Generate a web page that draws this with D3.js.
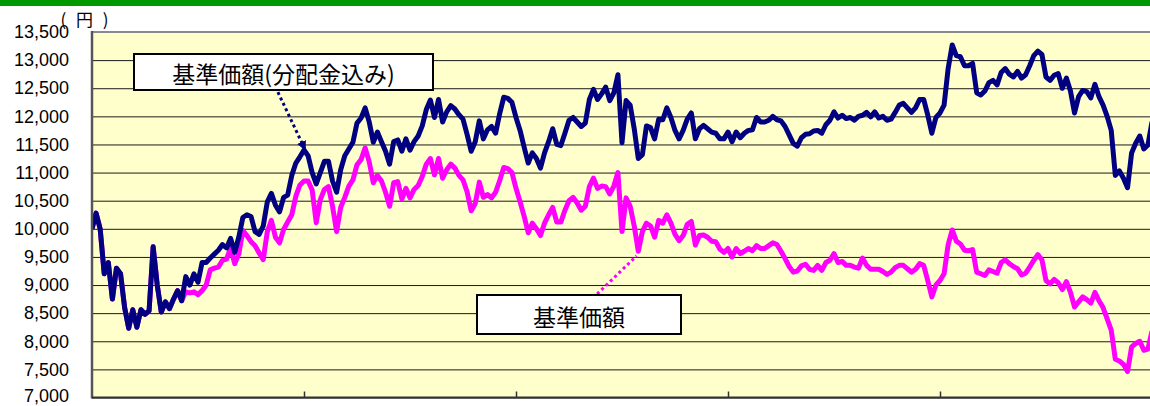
<!DOCTYPE html>
<html>
<head>
<meta charset="utf-8">
<script src="https://cdn.jsdelivr.net/npm/d3@7"></script>
<style>
  body { margin: 0; background: #ffffff; }
  svg { display: block; }
  .yAxis text { font-family: "Liberation Sans", Arial, sans-serif; font-size: 18px; fill: #000; }
  .yAxis .tick line { stroke: #1a1a1a; stroke-width: 1; }
  .yAxis .domain { display: none; }
  .xAxis .domain { display: none; }
  .xAxis .tick line { stroke: #333; stroke-width: 1.5; }
  .labelText { font-family: "Noto Sans CJK JP", "Noto Sans", sans-serif; font-size: 23px; fill: #000; }
</style>
</head>
<body>
<div id="chart"></div>
<script>
// Weekly index along the horizontal axis (5 years x 52 weeks)
var weeks = d3.range(0, 261);

// Year boundaries on the x axis (tick marks only, labels are cut off)
var yearTicks = [52, 104, 156, 208];

// Y axis tick values
var yTicks = d3.range(7000, 13501, 500);

// 基準価額(分配金込み) - price including reinvested distributions
var navWithDist = [
  10000, 10280, 10000, 9200, 9400, 8750, 9300, 9200, 8600, 8230,
  8560, 8250, 8560, 8480, 8540, 9680, 9000, 8520, 8700, 8580,
  8750, 8900, 8720, 9150, 9000, 9200, 9050, 9400, 9400, 9480,
  9550, 9620, 9720, 9660, 9830, 9580, 9850, 10200, 10250, 10220,
  9950, 9900, 10050, 10480, 10630, 10420, 10300, 10560, 10600, 10950,
  11170, 11280, 11400, 11300, 11000, 10800, 11000, 11200, 11200, 10850,
  10650, 11050, 11300, 11420, 11540, 11880, 11970, 12150, 11900, 11540,
  11720, 11550, 11380, 11150, 11550, 11580, 11380, 11600, 11400, 11550,
  11650, 11830, 12120, 12290, 11980, 12300, 11900, 12080, 12190, 12130,
  12030, 11950, 11680, 11380, 11550, 11920, 11600, 11760, 11820, 11700,
  12050, 12340, 12320, 12250, 11980, 11750, 11450, 11170, 11350, 11250,
  11080, 11350, 11550, 11780, 11500, 11480, 11700, 11930, 11980, 11900,
  11820, 11880, 12300, 12480, 12300, 12400, 12520, 12280, 12420, 12740,
  11530, 12280, 12200, 11780, 11250, 11320, 11830, 11800, 11600, 11950,
  11940, 12150, 11980, 11750, 11600, 11750, 11950, 12060, 11600, 11780,
  11840, 11780, 11720, 11700, 11600, 11600, 11720, 11550, 11720, 11620,
  11700, 11750, 11760, 11980, 11900, 11900, 11930, 12000, 11940, 11920,
  11820, 11670, 11520, 11470, 11620, 11680, 11690, 11740, 11750, 11700,
  11850, 11930, 12080, 11970, 12020, 11960, 11980, 11930, 12000, 12020,
  12070, 11990, 12080, 11970, 12000, 11930, 11950, 12070, 12200, 12230,
  12150, 12070, 12150, 12300, 12300, 12020, 11700, 11980, 12060, 12200,
  12850, 13270, 13080, 13060, 12900, 12900, 12940, 12420, 12380, 12450,
  12600, 12640, 12560, 12780, 12850, 12750, 12700, 12800, 12680, 12740,
  12900, 13080, 13160, 13100, 12700, 12640, 12730, 12760, 12500, 12680,
  12450, 12060, 12350, 12460, 12440, 12330, 12570, 12350, 12200, 12000,
  11750, 10950, 11030, 10900, 10730, 11350, 11520, 11650, 11420, 11490,
  11900
];

// 基準価額 - base price
var navBase = [
  10000, 10280, 10000, 9200, 9400, 8750, 9300, 9200, 8600, 8230,
  8560, 8250, 8560, 8480, 8540, 9680, 9000, 8520, 8700, 8580,
  8750, 8900, 8720, 8880, 8860, 8880, 8830, 8900, 9000, 9270,
  9300, 9320, 9440, 9460, 9660, 9380, 9550, 9970, 9880, 9770,
  9700, 9570, 9450, 9950, 10150, 9850, 9750, 9990, 10120, 10250,
  10580, 10780, 10850, 10850, 10690, 10110, 10520, 10700, 10750, 10400,
  9950, 10380, 10560, 10760, 10870, 11140, 11230, 11440, 11190, 10820,
  10950, 10850, 10650, 10400, 10820, 10840, 10530, 10720, 10550, 10700,
  10770, 10930, 11150, 11250, 10960, 11250, 10900, 11050, 11150, 11080,
  10950, 10870, 10660, 10320, 10450, 10830, 10560, 10610, 10550, 10650,
  10860, 11090, 11070, 11000, 10720, 10480, 10220, 9930, 10100, 10000,
  9880, 10100, 10250, 10380, 10120, 10120, 10330, 10500, 10560, 10460,
  10330, 10400, 10750, 10900, 10720, 10760, 10750, 10620, 10760, 11000,
  9950, 10550, 10400, 10050, 9600, 9950, 10100, 10050, 9850, 10150,
  10100, 10250, 10100, 9900, 9790, 9880, 10080, 10130, 9710, 9880,
  9890, 9850, 9780, 9770, 9640, 9580, 9650, 9500, 9650, 9560,
  9600, 9650, 9610, 9700, 9650, 9650, 9700, 9750, 9720, 9600,
  9470, 9330, 9230, 9250, 9340, 9370, 9280, 9260, 9350, 9260,
  9400, 9440, 9560, 9400, 9420, 9350, 9350, 9320, 9300, 9480,
  9350, 9280, 9280, 9280, 9240, 9190, 9230, 9310, 9350, 9350,
  9290, 9230, 9280, 9380, 9350, 9080, 8790, 9000, 9080, 9200,
  9720, 9980, 9780, 9730, 9620, 9610, 9630, 9230, 9200, 9170,
  9270, 9240, 9210, 9400, 9450, 9380, 9330, 9290, 9180, 9210,
  9320, 9440, 9540, 9450, 9080, 9020, 9100, 9040, 8920, 9060,
  8870, 8610, 8700, 8790, 8740, 8680, 8870, 8720, 8600, 8400,
  8200, 7680, 7650, 7590, 7460, 7900, 7960, 8000, 7840, 7860,
  8180
];

// Chart configuration
var width = 1150;
var height = 406;
var plotLeft = 92;
var plotRight = 1152;
var plotTop = 32;
var plotBottom = 397.5;

var svg = d3.select("#chart")
  .append("svg")
  .attr("width", width)
  .attr("height", height);

// green strip along the top
svg.append("rect")
  .attr("x", 0).attr("y", 0)
  .attr("width", width).attr("height", 6)
  .attr("fill", "#009a00");

var x = d3.scaleLinear().domain([0, 260]).range([plotLeft, plotRight]);
var y = d3.scaleLinear().domain([7000, 13500]).range([plotBottom, plotTop]);

// plot background
svg.append("rect")
  .attr("x", plotLeft).attr("y", plotTop)
  .attr("width", plotRight - plotLeft).attr("height", plotBottom - plotTop)
  .attr("fill", "#ffffcc");

// y axis with gridlines
svg.append("g")
  .attr("class", "yAxis")
  .attr("transform", "translate(" + plotLeft + ",0)")
  .call(d3.axisLeft(y)
    .tickValues(yTicks)
    .tickSizeInner(-(plotRight - plotLeft))
    .tickSizeOuter(0)
    .tickPadding(23)
    .tickFormat(d3.format(",")));

// nudge the bottom label so it stays inside the picture
svg.selectAll(".yAxis .tick text")
  .filter(function(d) { return d === 7000; })
  .attr("dy", "0.2em");

// yen unit label
svg.append("text")
  .attr("x", 86).attr("y", 18)
  .attr("text-anchor", "middle")
  .attr("dominant-baseline", "central")
  .attr("font-family", "Noto Sans CJK JP, sans-serif")
  .attr("font-size", "17px")
  .attr("letter-spacing", "3px")
  .text("( 円 )");

// clip the lines to the plot area
svg.append("clipPath").attr("id", "plotClip")
  .append("rect")
  .attr("x", plotLeft).attr("y", plotTop)
  .attr("width", plotRight - plotLeft).attr("height", plotBottom - plotTop);

var line = function(values) {
  return d3.line()
    .x(function(d) { return x(d); })
    .y(function(d) { return y(values[d]); })(weeks);
};

var lines = svg.append("g").attr("clip-path", "url(#plotClip)");

lines.append("path")
  .attr("d", line(navBase))
  .attr("fill", "none")
  .attr("stroke", "#ff00ff")
  .attr("stroke-width", 5)
  .attr("stroke-linejoin", "round");

lines.append("path")
  .attr("d", line(navWithDist))
  .attr("fill", "none")
  .attr("stroke", "#000080")
  .attr("stroke-width", 5)
  .attr("stroke-linejoin", "round");

// plot frame
svg.append("line")
  .attr("x1", plotLeft).attr("x2", plotRight)
  .attr("y1", plotTop).attr("y2", plotTop)
  .attr("stroke", "#8a8a8a").attr("stroke-width", 2);
svg.append("line")
  .attr("x1", plotLeft).attr("x2", plotLeft)
  .attr("y1", plotTop - 1).attr("y2", plotBottom + 1)
  .attr("stroke", "#555").attr("stroke-width", 2.5);
svg.append("line")
  .attr("x1", plotLeft).attr("x2", plotRight)
  .attr("y1", plotBottom).attr("y2", plotBottom)
  .attr("stroke", "#333").attr("stroke-width", 2);

// x axis: small tick marks pointing into the plot
svg.append("g")
  .attr("class", "xAxis")
  .attr("transform", "translate(0," + plotBottom + ")")
  .call(d3.axisBottom(x)
    .tickValues(yearTicks)
    .tickSizeInner(-6)
    .tickSizeOuter(0)
    .tickFormat(""));

// Annotations
// arrow marker for the navy pointer
svg.append("defs").append("marker")
  .attr("id", "arrowNavy")
  .attr("viewBox", "0 0 10 10")
  .attr("refX", 8).attr("refY", 5)
  .attr("markerWidth", 3.2).attr("markerHeight", 3.2)
  .attr("orient", "auto")
  .append("path")
  .attr("d", "M0,0 L10,5 L0,10 z")
  .attr("fill", "#000080");

svg.append("line")
  .attr("x1", x(45.6)).attr("y1", y(12430))
  .attr("x2", x(52.2)).attr("y2", y(11420))
  .attr("stroke", "#000080")
  .attr("stroke-width", 3)
  .attr("stroke-dasharray", "3,3")
  .attr("marker-end", "url(#arrowNavy)");

svg.append("line")
  .attr("x1", x(123.9)).attr("y1", y(8840))
  .attr("x2", x(133.6)).attr("y2", y(9520))
  .attr("stroke", "#ff00ff")
  .attr("stroke-width", 3)
  .attr("stroke-dasharray", "3,3");

function labelBox(x0, y0, w, h, label) {
  svg.append("rect")
    .attr("x", x0).attr("y", y0)
    .attr("width", w).attr("height", h)
    .attr("fill", "#ffffff")
    .attr("stroke", "#000")
    .attr("stroke-width", 2);
  svg.append("text")
    .attr("class", "labelText")
    .attr("x", x0 + w / 2)
    .attr("y", y0 + h / 2 + 1)
    .attr("text-anchor", "middle")
    .attr("dominant-baseline", "central")
    .text(label);
}

labelBox(134, 54, 299, 36, "基準価額(分配金込み)");
labelBox(477, 295, 204, 39, "基準価額");
</script>
</body>
</html>
